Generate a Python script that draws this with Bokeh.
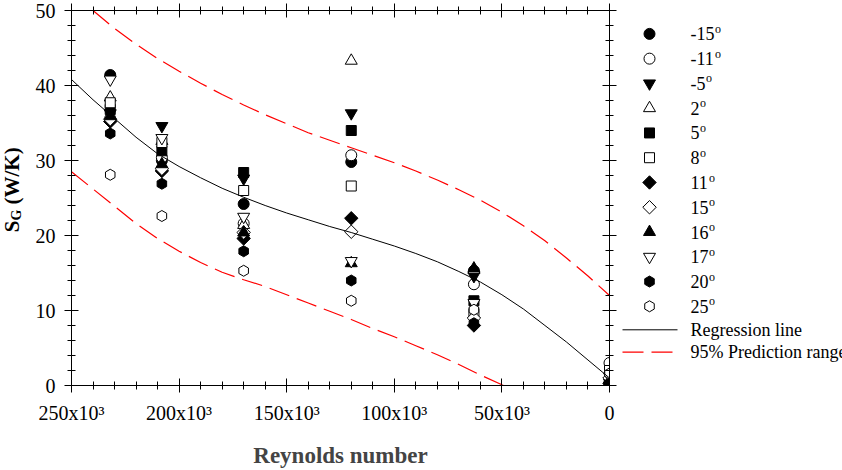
import math
from bokeh.plotting import figure
from bokeh.layouts import row
from bokeh.models import (Range1d, LinearAxis, SingleIntervalTicker, CustomJSTickFormatter)
from bokeh.core.properties import value
from bokeh.embed import file_html
from bokeh.resources import INLINE

# ---------------- data ----------------
re_positions = [232000, 208000, 170000, 120000, 63000, 0]

angle_numbers = ["-15", "-11", "-5", "2", "5", "8", "11", "15", "16", "17", "20", "25"]
degree_mark = "o"

sg_m15 = [41.4, 30.0, 24.2, 29.8, 15.3, 0.4]
sg_m11 = [35.6, 30.4, 21.6, 30.7, 13.5, 3.0]
sg_m5 = [36.3, 34.6, 27.6, 36.3, 14.6, 0.4]
sg_p2 = [38.4, 32.6, 21.4, 43.3, 15.4, 0.8]
sg_p5 = [36.8, 31.3, 28.4, 34.0, 11.3, 0.5]
sg_p8 = [37.7, 32.4, 26.0, 26.6, 9.6, 2.0]
sg_p11 = [35.2, 28.6, 19.6, 22.3, 8.0, 0.3]
sg_p15 = [35.5, 28.9, 20.4, 20.5, 9.0, 1.0]
sg_p16 = [35.9, 29.5, 20.4, 16.3, 15.6, 0.5]
sg_p17 = [40.8, 33.0, 22.5, 16.6, 11.0, 1.2]
sg_p20 = [33.6, 26.9, 17.9, 14.0, 8.3, 0.3]
sg_p25 = [28.1, 22.6, 15.3, 11.3, 10.1, 1.6]

reg_re = [250000, 240000, 230000, 220000, 210000, 200000, 190000, 180000, 170000, 160000,
          150000, 140000, 130000, 120000, 110000, 100000, 90000, 80000, 70000, 60000,
          50000, 40000, 30000, 20000, 10000, 0]
reg_sg = [40.8, 38.1, 35.6, 33.1, 30.9, 29.2, 27.7, 26.3, 25.1, 24.0,
          23.0, 22.1, 21.2, 20.4, 19.5, 18.6, 17.6, 16.5, 15.2, 13.8,
          12.1, 10.2, 8.0, 5.8, 3.4, 1.0]

upper_re = [240000, 230000, 220000, 210000, 200000, 190000, 180000, 170000, 160000, 150000,
            140000, 130000, 120000, 110000, 100000, 90000, 80000, 70000, 60000, 50000,
            40000, 30000, 20000, 10000, 0]
upper_sg = [50.0, 47.6, 45.5, 43.6, 41.9, 40.3, 38.8, 37.4, 36.1, 34.9,
            33.7, 32.7, 31.7, 30.7, 29.7, 28.6, 27.4, 26.1, 24.7, 23.1,
            21.3, 19.3, 17.0, 14.6, 12.0]

lower_re = [250000, 240000, 230000, 220000, 210000, 200000, 190000, 180000, 170000, 160000,
            150000, 140000, 130000, 120000, 110000, 100000, 90000, 80000, 70000, 60000,
            50000, 49000]
lower_sg = [28.5, 26.2, 23.9, 21.6, 19.6, 17.9, 16.4, 15.1, 14.1, 13.2,
            12.1, 11.0, 9.9, 8.8, 7.6, 6.5, 5.3, 4.1, 2.8, 1.4,
            0.1, 0.0]

x_title = "Reynolds number"
y_title_main = "S"
y_title_sub = "G"
y_title_unit = "(W/K)"
line_labels = ["Regression line", "95% Prediction range"]

FONT = "Liberation Serif"
H = 470
TOP, BOTTOM = 10, 83          # main frame borders (frames are aligned across the row)
TW, LW = 32, 225              # widths of the title strip and legend strip
MW = 842 - TW - LW

# ---------------- y-title strip (left) ----------------
# coordinates in this strip: x = canvas x, y = H - canvas y
tfig = figure(width=TW, height=H, output_backend="svg", toolbar_location=None,
              x_range=Range1d(0, TW), y_range=Range1d(BOTTOM, H - TOP),
              x_axis_type=None, y_axis_type=None,
              min_border_left=0, min_border_right=0, min_border_top=TOP, min_border_bottom=BOTTOM)
tfig.outline_line_color = None
TXT = dict(text_font=value(FONT), text_font_style="bold", text_align="left",
           text_baseline="middle", text_color="black", angle=math.pi / 2)
tfig.text(x=[11], y=[H - 233], text=[y_title_main], text_font_size="21px", **TXT)
tfig.text(x=[15.5], y=[H - 221], text=[y_title_sub], text_font_size="14px", **TXT)
tfig.text(x=[11], y=[H - 205], text=[y_title_unit], text_font_size="21px", **TXT)

# ---------------- main figure ----------------
p = figure(width=MW, height=H, output_backend="svg", toolbar_location=None,
           x_range=Range1d(250000, 0), y_range=Range1d(0, 50),
           x_axis_type=None, y_axis_type=None,
           min_border_left=69 - TW, min_border_right=8, min_border_top=TOP, min_border_bottom=BOTTOM)
p.outline_line_color = None


def style_axis(ax, show_labels):
    ax.major_tick_in = 7
    ax.major_tick_out = 7
    ax.minor_tick_in = 4
    ax.minor_tick_out = 4
    ax.axis_line_color = "black"
    ax.major_tick_line_color = "black"
    ax.minor_tick_line_color = "black"
    ax.major_label_text_font = FONT
    ax.major_label_text_color = "black"
    if not show_labels:
        ax.major_label_text_font_size = "0px"
        ax.major_label_standoff = 0
        ax.formatter = CustomJSTickFormatter(code="return '';")
    else:
        ax.major_label_text_font_size = "20px"


x_fmt_code = "return tick == 0 ? '0' : (tick/1000).toFixed(0) + 'x10\u00b3';"

xb = LinearAxis(ticker=SingleIntervalTicker(interval=50000, num_minor_ticks=5),
                formatter=CustomJSTickFormatter(code=x_fmt_code))
style_axis(xb, True)
xb.major_label_standoff = 9
xb.axis_label = x_title
xb.axis_label_text_font = FONT
xb.axis_label_text_font_style = "bold"
xb.axis_label_text_font_size = "23px"
xb.axis_label_standoff = 16
p.add_layout(xb, "below")

xt = LinearAxis(ticker=SingleIntervalTicker(interval=50000, num_minor_ticks=5))
style_axis(xt, False)
p.add_layout(xt, "above")

yl = LinearAxis(ticker=SingleIntervalTicker(interval=10, num_minor_ticks=5))
style_axis(yl, True)
yl.major_label_standoff = 9
p.add_layout(yl, "left")

yr = LinearAxis(ticker=SingleIntervalTicker(interval=10, num_minor_ticks=5))
style_axis(yr, False)
p.add_layout(yr, "right")

series = [
    (sg_m15, "circle", "black", 11, 0),
    (sg_m11, "circle", "white", 11, 0),
    (sg_m5, "inverted_triangle", "black", 12, 0),
    (sg_p2, "triangle", "white", 12, 0),
    (sg_p5, "square", "black", 10, 0),
    (sg_p8, "square", "white", 10, 0),
    (sg_p11, "square", "black", 9.5, math.pi / 4),
    (sg_p15, "square", "white", 9.5, math.pi / 4),
    (sg_p16, "triangle", "black", 12, 0),
    (sg_p17, "inverted_triangle", "white", 12, 0),
    (sg_p20, "hex", "black", 11, math.pi / 6),
    (sg_p25, "hex", "white", 11, math.pi / 6),
]

for vals, marker, fill, size, ang in series:
    p.scatter(re_positions, vals, marker=marker, size=size, angle=ang,
              fill_color=fill, line_color="black", line_width=1)

REG_STYLE = dict(line_color="black", line_width=1)
PRED_STYLE = dict(line_color="red", line_width=1.2, line_dash="21 8")
p.line(reg_re, reg_sg, **REG_STYLE)
p.line(upper_re, upper_sg, **PRED_STYLE)
p.line(lower_re, lower_sg, **PRED_STYLE)

# ---------------- legend strip (right) ----------------
lfig = figure(width=LW, height=H, output_backend="svg", toolbar_location=None,
              x_range=Range1d(0, LW), y_range=Range1d(BOTTOM, H - TOP),
              x_axis_type=None, y_axis_type=None,
              min_border_left=0, min_border_right=0, min_border_top=TOP, min_border_bottom=BOTTOM)
lfig.outline_line_color = None

x_off = TW + MW             # canvas x of the strip's left edge
glyph_cx = 649 - x_off
line_x0, line_x1 = 622 - x_off, 677 - x_off
label_x = 690 - x_off
row_cy = [33.5 + 24.9 * k for k in range(12)] + [331.0, 353.5]

LTXT = dict(text_font=value(FONT), text_align="left", text_baseline="middle", text_color="black")
char_w = {"-": 0.333}
for (vals, marker, fill, size, ang), num, cy in zip(series, angle_numbers, row_cy):
    lfig.scatter([glyph_cx], [H - cy], marker=marker, size=size, angle=ang,
                 fill_color=fill, line_color="black", line_width=1)
    w = sum(char_w.get(c, 0.5) for c in num) * 18
    lfig.text(x=[label_x], y=[H - cy], text=[num], text_font_size="18px", **LTXT)
    lfig.text(x=[label_x + w + 0.5], y=[H - (cy - 5)], text=[degree_mark],
              text_font_size="12px", **LTXT)

for style, lab, cy in zip([REG_STYLE, PRED_STYLE], line_labels, row_cy[12:]):
    lfig.line([line_x0, line_x1], [H - cy, H - cy], **style)
    lfig.text(x=[label_x], y=[H - cy], text=[lab], text_font_size="18px", **LTXT)

layout = row(tfig, p, lfig)
open("out.html", "w").write(file_html(layout, INLINE))
